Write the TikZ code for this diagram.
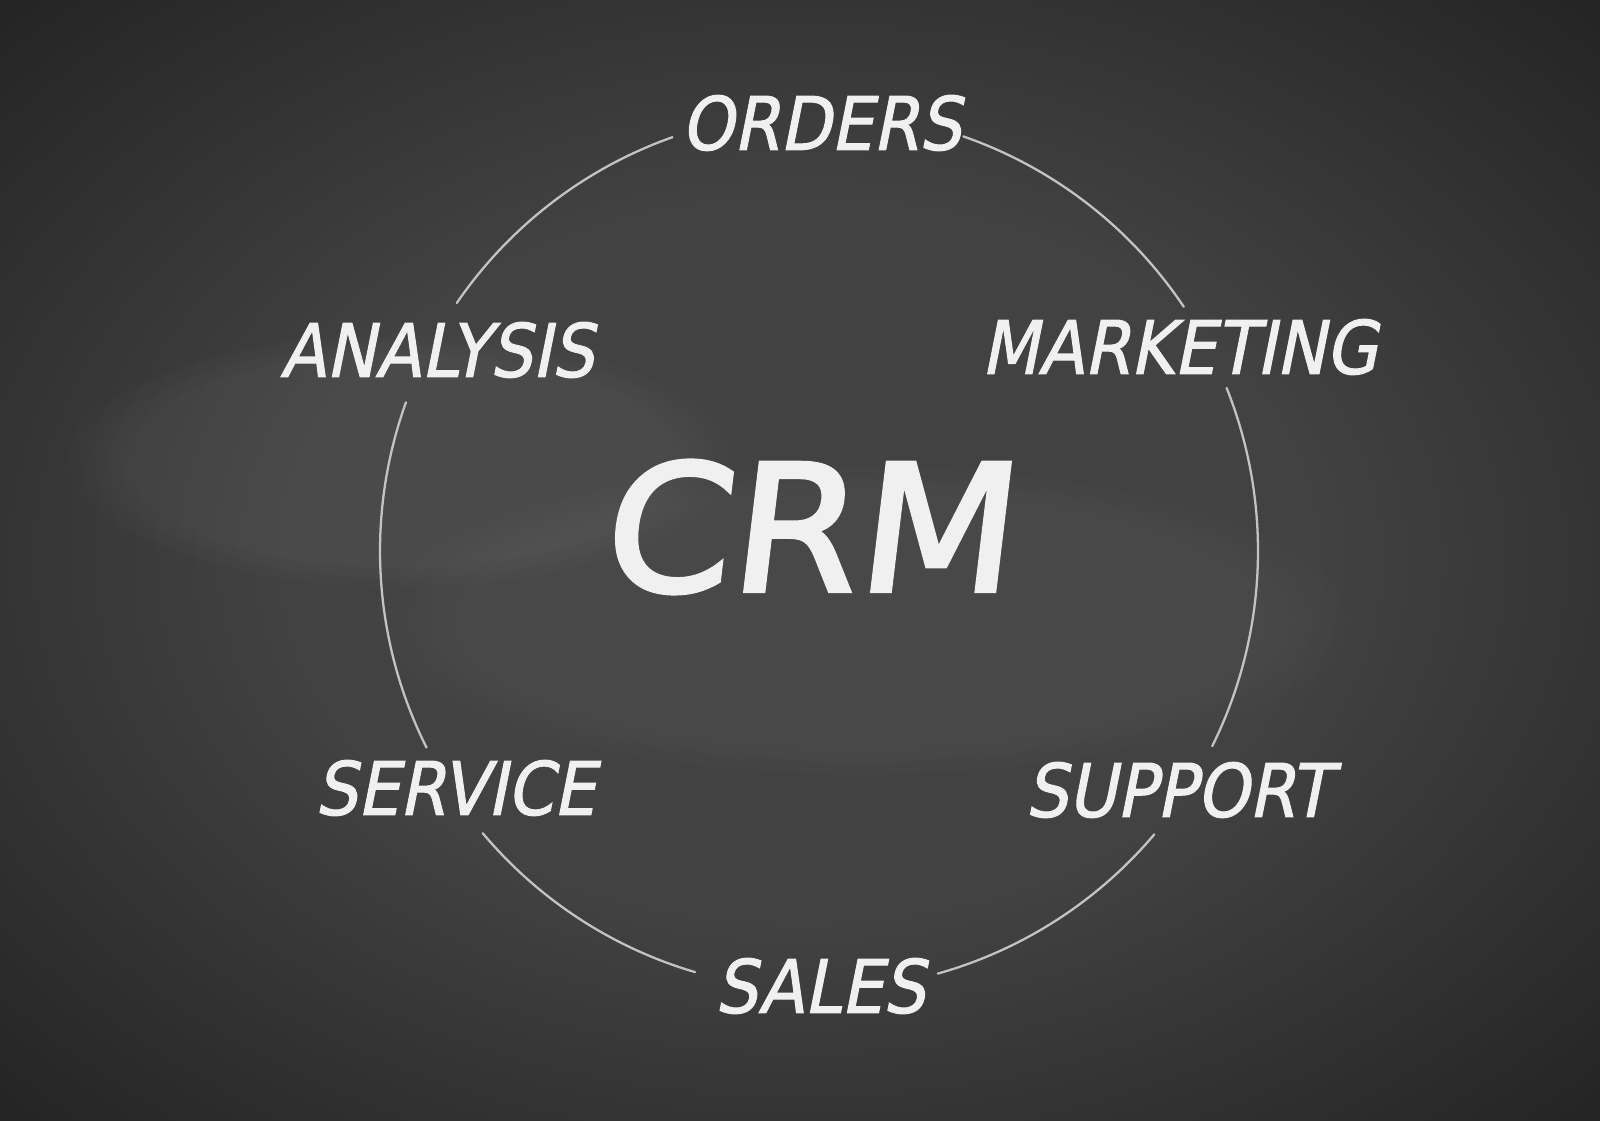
\documentclass[tikz,border=0pt]{standalone}
\usepackage{fontspec}
\setmainfont{DejaVu Sans}[FakeSlant=0.2, FakeStretch=0.9, FakeBold=1.4]
\newfontfamily\crmfont{DejaVu Sans}[FakeSlant=0.12, FakeStretch=1.04, FakeBold=2.4]
\usepackage{tikz}
\usetikzlibrary{positioning, fadings}

\definecolor{boardmid}{RGB}{66,66,66}
\definecolor{boardedge}{RGB}{27,27,27}
\definecolor{boardcorner}{RGB}{10,10,10}
\definecolor{chalk}{RGB}{240,240,240}
\definecolor{chalkline}{RGB}{195,195,195}

\pgfdeclareradialshading{board}{\pgfpoint{0bp}{0bp}}{color(0bp)=(boardmid); color(16bp)=(boardmid); color(41bp)=(boardedge); color(72bp)=(boardcorner)}

\begin{document}
\begin{tikzpicture}[
    word/.style={text=chalk, font=\fontsize{21}{24}\selectfont, inner sep=2pt},
    ring/.style={draw=chalkline, line width=0.65pt, line cap=round}
]
    % blackboard
    \shade[shading=board] (0,0) rectangle (16,11.2);
    \useasboundingbox (0,0) rectangle (16,11.2);
    \fill[white, opacity=0.045, path fading=circle with fuzzy edge 20 percent] (4.0,6.6) ellipse (3.4 and 1.3);
    \fill[white, opacity=0.035, path fading=circle with fuzzy edge 20 percent] (8.6,5.0) ellipse (5.0 and 1.6);

    \node[text=chalk, font=\crmfont\fontsize{50}{56}\selectfont] (crm) at (8.06,5.93) {CRM};

    \node[word] (orders) at (8.21,9.97) {ORDERS};
    \node[word] (marketing) at (11.79,7.73) {MARKETING};
    \node[word] (support) at (11.78,3.30) {SUPPORT};
    \node[word] (sales) at (8.20,1.34) {SALES};
    \node[word] (service) at (4.55,3.32) {SERVICE};
    \node[word] (analysis) at (4.37,7.70) {ANALYSIS};

    % chalk ring, broken at the labels
    \coordinate (hub) at (8.19,5.69);
    \foreach \from/\to in {70.8/33.8, 21.8/-26.4, -40.2/-74.3, 253.6/220, 206.6/160.2, 145.6/109.5}
        \draw[ring] ([shift={(\from:4.39)}]hub) arc[start angle=\from, end angle=\to, radius=4.39];
\end{tikzpicture}
\end{document}
